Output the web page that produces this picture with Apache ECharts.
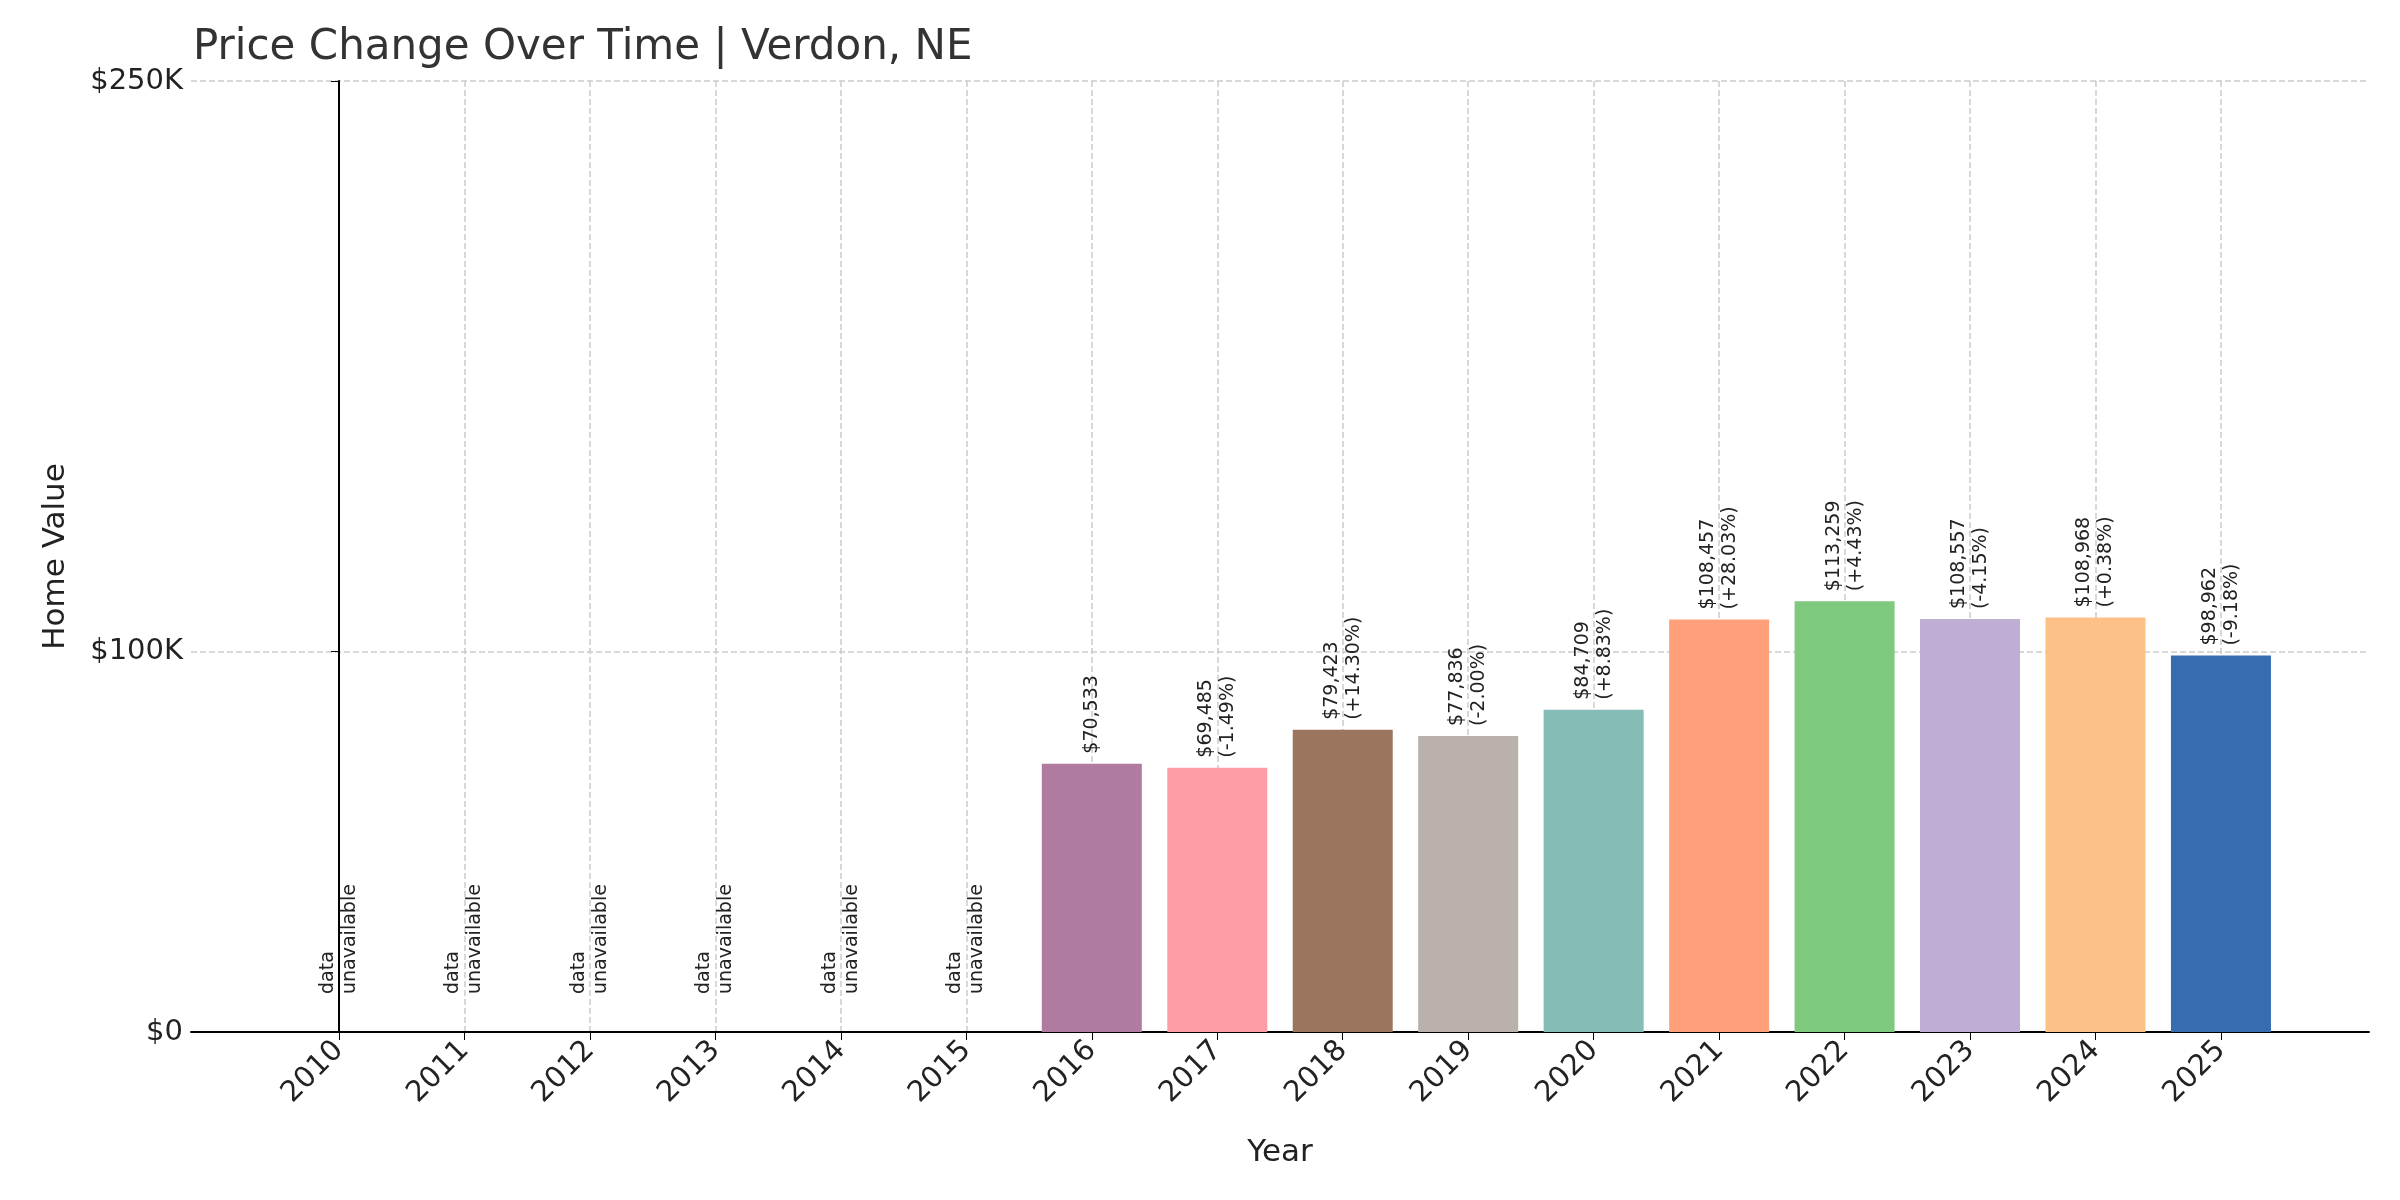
<!DOCTYPE html>
<html>
<head>
<meta charset="utf-8">
<script src="https://cdn.jsdelivr.net/npm/echarts@6/dist/echarts.min.js"></script>
<style>html,body{margin:0;padding:0;background:#fff}#main{width:2400px;height:1200px}</style>
</head>
<body>
<div id="main"></div>
<script>
var years = ["2010","2011","2012","2013","2014","2015","2016","2017","2018","2019","2020","2021","2022","2023","2024","2025"];
var values = [null, null, null, null, null, null, 70533, 69485, 79423, 77836, 84709, 108457, 113259, 108557, 108968, 98962];
var changes = [null, null, null, null, null, null, null, "-1.49%", "+14.30%", "-2.00%", "+8.83%", "+28.03%", "+4.43%", "-4.15%", "+0.38%", "-9.18%"];
var colors = ["#b07aa1","#b07aa1","#b07aa1","#b07aa1","#b07aa1","#b07aa1","#b07aa1","#ff9da7","#9c755f","#bab0ac","#86bcb6","#ffa07a","#7fc97f","#beaed4","#fdc086","#386cb0"];
var yTicks = [0, 100000, 250000];

var font = "DejaVu Sans";
var idx = years.map(function (y, i) { return i; });

var chart = echarts.init(document.getElementById("main"));
var barData = [];
var naData = [];
values.forEach(function (v, i) {
    if (v === null) {
        naData.push([i, 0]);
    } else {
        var txt = "$" + v.toLocaleString("en-US");
        if (changes[i]) txt += "\n(" + changes[i] + ")";
        barData.push({ value: [i, v], itemStyle: { color: colors[i] }, label: { formatter: txt } });
    }
});

var option = {
    animation: false,
    textStyle: { fontFamily: font },
    title: {
        text: "Price Change Over Time | Verdon, NE",
        left: 188, top: 22,
        textStyle: { fontFamily: font, fontSize: 42, fontWeight: "normal", color: "#333" }
    },
    grid: { left: 191, right: 31, top: 81, bottom: 168 },
    xAxis: {
        type: "value",
        min: -1.18, max: 16.18,
        name: "Year", nameLocation: "middle", nameGap: 105,
        nameTextStyle: { fontSize: 31, color: "#222" },
        axisLine: { show: true, onZero: false, lineStyle: { color: "#000", width: 2 } },
        axisTick: { show: true, customValues: idx, length: 8, lineStyle: { color: "#000" } },
        axisLabel: {
            customValues: idx, rotate: 45, fontSize: 29, color: "#222", margin: 14,
            formatter: function (v) { return years[Math.round(v)]; }
        },
        splitLine: { show: true, lineStyle: { color: "#ccc", type: "dashed", width: 1.5 } }
    },
    yAxis: {
        type: "value",
        min: 0, max: 250000,
        name: "Home Value", nameLocation: "middle", nameGap: 120,
        nameTextStyle: { fontSize: 31, color: "#222" },
        axisLine: { show: true, lineStyle: { color: "#000", width: 2 } },
        axisTick: { show: true, customValues: yTicks, length: 8, lineStyle: { color: "#000" } },
        axisLabel: {
            customValues: yTicks, fontSize: 29, color: "#222",
            formatter: function (v) { return v === 0 ? "$0" : "$" + (v / 1000) + "K"; }
        },
        splitLine: { show: true, lineStyle: { color: "#ccc", type: "dashed", width: 1.5 } }
    },
    series: [
        {
            type: "bar",
            barWidth: 100,
            data: barData,
            label: {
                show: true, position: "top", rotate: 90, align: "left", verticalAlign: "middle",
                distance: 10, fontSize: 19, color: "#222", lineHeight: 22
            }
        },
        {
            type: "bar",
            barWidth: 100,
            barGap: "-100%",
            data: naData,
            itemStyle: { color: "transparent" },
            label: {
                show: true, position: "top", rotate: 90, align: "left", verticalAlign: "middle",
                distance: 38, fontSize: 19, color: "#222", lineHeight: 22,
                formatter: "data\nunavailable"
            }
        }
    ]
};
chart.setOption(option);
</script>
</body>
</html>
